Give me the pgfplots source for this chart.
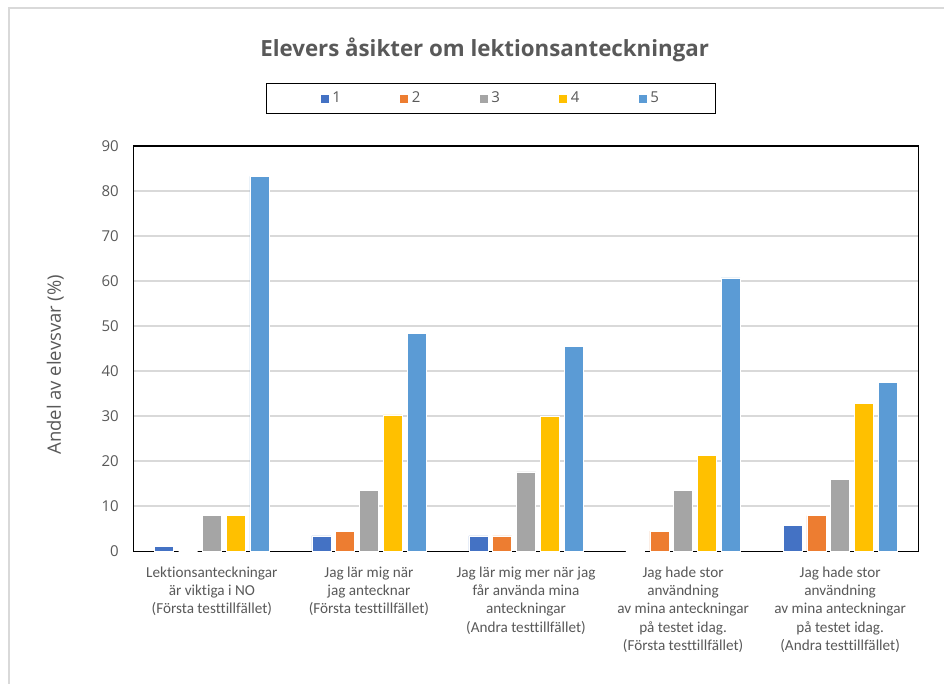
\documentclass[border=0pt]{standalone}
\usepackage{fontspec}
\setmainfont{Carlito}[Ligatures=NoCommon]
\newfontfamily\os{Open Sans}
\usepackage{pgfplots}
\pgfplotsset{compat=1.18}
\definecolor{c1}{HTML}{4472C4}
\definecolor{c2}{HTML}{ED7D31}
\definecolor{c3}{HTML}{A5A5A5}
\definecolor{c4}{HTML}{FFC000}
\definecolor{c5}{HTML}{5B9BD5}
\definecolor{txt}{HTML}{595959}
\definecolor{gridc}{HTML}{D9D9D9}
\begin{document}
\begin{tikzpicture}[x=1pt,y=1pt]
\useasboundingbox (0,0) rectangle (944,684);
\fill[white] (0,0) rectangle (944,684);
\draw[gridc, line width=1.5pt] (9,-5) -- (9,676) -- (950,676);
\begin{axis}[
  at={(133.3pt,132.7pt)}, anchor=south west,
  scale only axis, width=785.4pt, height=405.5pt,
  ymin=0, ymax=90, ytick={0,10,...,90},
  xmin=-0.5, xmax=4.5, xtick={0,1,2,3,4},
  xticklabels={{Lektionsanteckningar\\är viktiga i NO\\(Första testtillfället)},
               {Jag lär mig när\\jag antecknar\\(Första testtillfället)},
               {Jag lär mig mer när jag\\får använda mina\\anteckningar\\(Andra testtillfället)},
               {Jag hade stor\\användning\\av mina anteckningar\\på testet idag.\\(Första testtillfället)},
               {Jag hade stor\\användning\\av mina anteckningar\\på testet idag.\\(Andra testtillfället)}},
  xticklabel style={align=center, font=\fontsize{15.2}{18.3}\selectfont, text=txt, anchor=north, yshift=-12pt},
  yticklabel style={font=\os\fontsize{15}{18}\selectfont, text=txt, xshift=-11pt},
  /pgf/number format/assume math mode=true,
  ybar=4.8pt, bar width=19pt,
  ymajorgrids, grid style={gridc, line width=1.5pt},
  axis line style={black, line width=1.5pt},
  major tick length=0pt,
  ylabel={Andel av elevsvar (\%)},
  ylabel style={at={(axis description cs:-0.0993,0.46)}, anchor=center, font=\os\fontsize{18.5}{22}\selectfont, text=txt},
  title={Elevers åsikter om lektionsanteckningar},
  title style={at={(axis description cs:0.4474,1.2059)}, anchor=base, font=\os\bfseries\fontsize{22.3}{26}\selectfont, text=txt},
  legend columns=5,
  legend style={at={(axis description cs:0.1686,1.1556)}, anchor=north west,
    draw=black, line width=1.5pt, inner xsep=53.5pt, inner ysep=6pt,
    font=\os\fontsize{15}{18}\selectfont, text=txt,
    nodes={inner xsep=3pt, inner ysep=2pt, text height=11pt, text depth=3pt},
    /tikz/every even column/.append style={column sep=55.4pt}},
  legend image code/.code={\fill[#1] (0pt,-4.5pt) rectangle (9pt,4.5pt);},
  every axis plot/.append style={draw=white, line width=0.5pt},
]
\addplot[fill=c1] coordinates {(0,1.1) (1,3.4) (2,3.4) (3,0) (4,5.7)};
\addplot[fill=c2] coordinates {(0,0) (1,4.5) (2,3.4) (3,4.5) (4,7.9)};
\addplot[fill=c3] coordinates {(0,7.9) (1,13.5) (2,17.6) (3,13.5) (4,15.9)};
\addplot[fill=c4] coordinates {(0,7.9) (1,30.3) (2,30.0) (3,21.3) (4,32.9)};
\addplot[fill=c5] coordinates {(0,83.2) (1,48.3) (2,45.4) (3,60.7) (4,37.5)};
\legend{1,2,3,4,5}
\end{axis}
\end{tikzpicture}
\end{document}
